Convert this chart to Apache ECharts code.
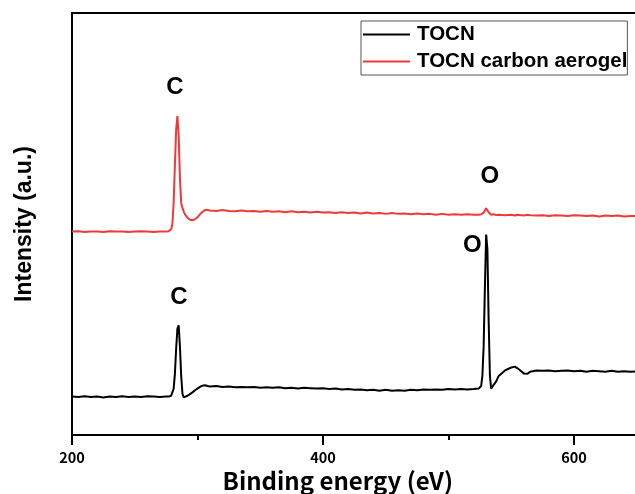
<!DOCTYPE html>
<html>
<head>
<meta charset="utf-8">
<script src="https://cdn.jsdelivr.net/npm/echarts@6/dist/echarts.min.js"></script>
<style>
html, body { margin: 0; padding: 0; background: #fff; }
#xps { width: 635px; height: 494px; }
</style>
</head>
<body>
<div id="xps"></div>
<script>
// binding energy grid (eV), denser around the C1s / O1s peaks
var energy = [200,205,210,215,220,225,230,235,240,245,250,255,260,265,270,275,277,279,
  280,281,282,283,284,285,286,287,288,289,290,292,294,296,298,300,302,304,306,308,310,
  315,320,325,330,335,340,345,350,355,360,365,370,375,380,385,390,395,400,405,410,
  415,420,425,430,435,440,445,450,455,460,465,470,475,480,485,490,495,500,505,510,515,520,524,
  526,527,528,529,530,531,532,533,534,535,536,538,540,
  545,550,553,555,558,560,563,565,570,
  575,580,585,590,595,600,605,610,615,620,625,630,635,640,645,650,660,670,680,690,700];

// TOCN
var tocn = [9.1,9.0,9.2,9.0,9.1,8.9,9.1,9.0,9.2,9.0,9.1,9.0,9.2,9.1,9.0,9.1,9.1,9.3,
  9.6,11.0,14.5,20.5,25.2,26.0,21.0,14.0,9.8,8.9,9.0,9.3,9.7,10.1,10.6,11.0,11.4,11.7,11.8,11.6,
  11.5,11.6,11.4,11.5,11.3,11.4,11.3,11.4,11.2,11.3,11.2,11.3,11.1,11.2,11.0,11.2,11.1,11.0,11.1,10.9,
  11.0,10.8,10.9,10.7,10.8,10.6,10.7,10.5,10.7,10.5,10.6,10.5,10.7,10.6,10.8,10.7,10.8,10.7,10.9,10.8,10.9,10.8,10.9,
  11.0,11.6,14.0,21.0,35.0,47.5,44.0,27.0,14.0,11.0,11.3,11.9,12.7,
  14.0,15.3,16.0,16.2,15.8,15.1,14.6,14.5,15.0,
  15.3,15.2,15.3,15.1,15.2,15.3,15.1,15.2,15.0,15.2,15.1,15.0,15.2,15.0,15.1,15.0,15.1,15.0,15.1,15.0,15.0];

// TOCN carbon aerogel
var aerogel = [48.2,48.3,48.1,48.2,48.2,48.1,48.3,48.2,48.2,48.1,48.2,48.3,48.2,48.1,48.2,48.2,48.3,48.7,
  50.0,55.0,64.0,72.5,75.6,71.0,61.0,55.0,53.8,53.0,52.3,51.5,51.0,50.9,51.1,51.6,52.3,52.9,53.3,53.3,
  53.2,53.1,53.3,53.1,53.0,53.2,53.0,53.1,52.9,53.1,52.9,53.0,52.8,53.0,52.8,52.9,52.7,52.9,52.7,52.8,
  52.6,52.8,52.6,52.7,52.5,52.7,52.5,52.6,52.4,52.6,52.4,52.5,52.3,52.5,52.3,52.4,52.2,52.4,52.2,52.3,52.2,52.3,52.2,
  52.2,52.3,52.4,52.7,53.2,53.7,53.4,52.8,52.4,52.2,52.2,52.3,52.1,
  52.2,52.1,52.2,52.0,52.2,52.1,52.0,52.2,52.1,
  52.0,52.1,51.9,52.1,52.0,51.9,52.1,52.0,51.9,52.0,51.8,52.0,51.9,52.0,51.8,51.9,51.9,51.8,51.9,51.8,51.9];

// peak annotations: [label, energy, intensity]
var tocnPeaks = [['C', 285.2, 32.5], ['O', 519.0, 45.0]];
var aerogelPeaks = [['C', 282.0, 82.3], ['O', 532.9, 61.4]];

var seriesNames = ['TOCN', 'TOCN carbon aerogel'];
var seriesColors = ['#000000', '#f03a3a'];

function pairs(ys) {
    var out = [];
    for (var i = 0; i < energy.length; i++) {
        out.push([energy[i], ys[i]]);
    }
    return out;
}

function peakMarks(list) {
    return {
        symbol: 'circle',
        symbolSize: 0,
        silent: true,
        label: {
            show: true,
            position: 'inside',
            color: '#000',
            fontFamily: 'Liberation Sans',
            fontWeight: 'bold',
            fontSize: 24,
            formatter: function (p) { return p.name; }
        },
        data: list.map(function (p) {
            return { name: p[0], coord: [p[1], p[2]] };
        })
    };
}

var chart = echarts.init(document.getElementById('xps'));

chart.setOption({
    animation: false,
    backgroundColor: '#fff',
    grid: {
        left: 72,
        top: 13,
        bottom: 59,
        right: -64.5,
        outerBoundsMode: 'none',
        containLabel: false,
        show: true,
        borderColor: '#000',
        borderWidth: 2
    },
    legend: {
        orient: 'vertical',
        left: 361,
        top: 21,
        padding: [3, 0, 3, 2],
        itemGap: 6,
        itemWidth: 47,
        itemHeight: 2,
        icon: 'rect',
        borderColor: '#555',
        borderWidth: 1,
        textStyle: {
            color: '#000',
            fontFamily: 'Liberation Sans',
            fontWeight: 'bold',
            fontSize: 20.5,
            padding: [0, 0, 0, 2]
        },
        data: seriesNames
    },
    xAxis: {
        type: 'value',
        min: 200,
        max: 700,
        interval: 200,
        name: 'Binding energy (eV)',
        nameLocation: 'middle',
        nameGap: 34,
        nameMoveOverlap: false,
        nameTextStyle: {
            color: '#000',
            fontFamily: 'Noto Sans CJK SC',
            fontWeight: 'bold',
            fontSize: 24,
            padding: [0, 96, 0, 0]
        },
        axisLine: { lineStyle: { color: '#000', width: 2 } },
        axisTick: { inside: false, length: 10, lineStyle: { color: '#000', width: 2 } },
        minorTick: { show: true, splitNumber: 2, length: 5, lineStyle: { color: '#000', width: 2 } },
        axisLabel: {
            color: '#000',
            fontFamily: 'Noto Sans CJK SC',
            fontWeight: 'bold',
            fontSize: 14.5,
            margin: 15
        },
        splitLine: { show: false }
    },
    yAxis: {
        type: 'value',
        min: 0,
        max: 100,
        name: 'Intensity (a.u.)',
        nameLocation: 'middle',
        nameGap: 36,
        nameTextStyle: {
            color: '#000',
            fontFamily: 'Liberation Sans',
            fontWeight: 'bold',
            fontSize: 23
        },
        axisLine: { show: true, lineStyle: { color: '#000', width: 2 } },
        axisTick: { show: false },
        axisLabel: { show: false },
        splitLine: { show: false }
    },
    series: [{
        name: seriesNames[0],
        type: 'line',
        symbol: 'none',
        color: seriesColors[0],
        lineStyle: { width: 2 },
        data: pairs(tocn),
        markPoint: peakMarks(tocnPeaks)
    }, {
        name: seriesNames[1],
        type: 'line',
        symbol: 'none',
        color: seriesColors[1],
        lineStyle: { width: 2 },
        data: pairs(aerogel),
        markPoint: peakMarks(aerogelPeaks)
    }]
});

window.onresize = function () {
    chart.resize();
};
</script>
</body>
</html>
